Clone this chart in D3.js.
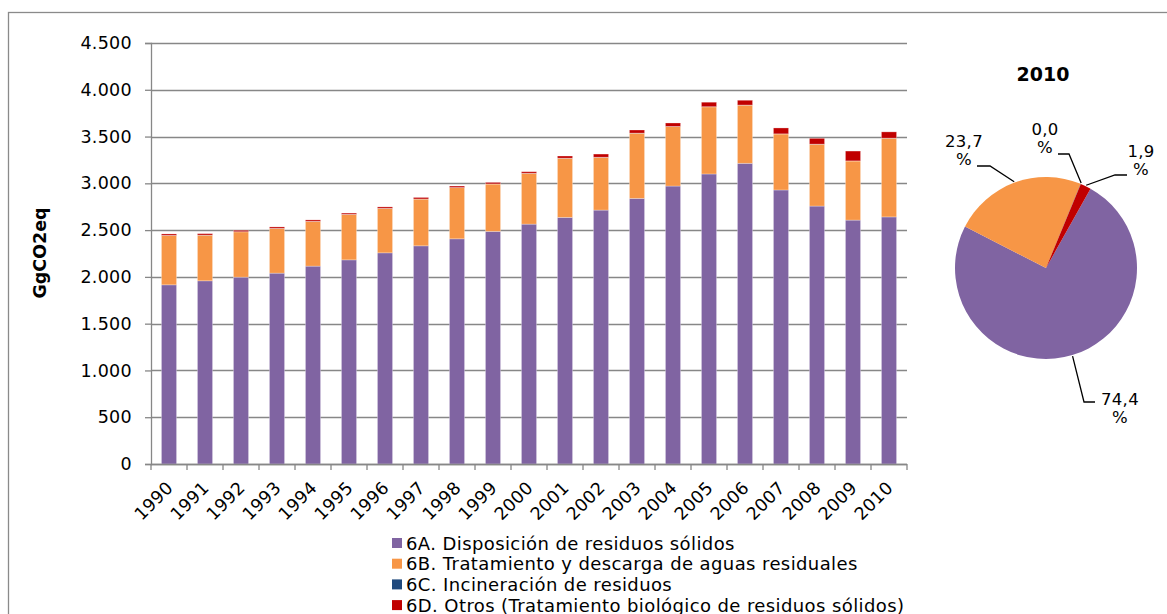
<!DOCTYPE html>
<html>
<head>
<meta charset="utf-8">
<script src="https://cdn.jsdelivr.net/npm/d3@7"></script>
<style>
  html, body { margin: 0; padding: 0; background: #fff; }
  svg { display: block; font-family: "DejaVu Sans", Verdana, sans-serif; }
</style>
</head>
<body>
<svg id="chart" width="1167" height="614"></svg>
<script>
// ---------- data ----------
const years = ["1990","1991","1992","1993","1994","1995","1996","1997","1998","1999","2000",
               "2001","2002","2003","2004","2005","2006","2007","2008","2009","2010"];
const s6A = [1915, 1958, 1997, 2040, 2115, 2182, 2257, 2332, 2407, 2486, 2564,
             2636, 2714, 2839, 2971, 3100, 3214, 2929, 2757, 2607, 2641];
const s6B = [528, 488, 485, 478, 478, 486, 475, 500, 547, 507, 543,
             632, 564, 697, 636, 718, 622, 599, 661, 632, 841];
const s6C = [1, 1, 1, 1, 1, 1, 1, 1, 1, 1, 1,
             1, 1, 1, 1, 1, 1, 1, 1, 1, 1];
const s6D = [15, 15, 15, 15, 15, 13, 15, 16, 16, 16, 16,
             23, 34, 33, 37, 48, 51, 63, 62, 105, 67];
const seriesNames = ["6A. Disposición de residuos sólidos",
                     "6B. Tratamiento y descarga de aguas residuales",
                     "6C. Incineración de residuos",
                     "6D. Otros (Tratamiento biológico de residuos sólidos)"];
const seriesKeys = ["6A", "6B", "6C", "6D"];
const colors = ["#8064A2", "#F79646", "#1F497D", "#C00000"];
const yTicks = [0, 500, 1000, 1500, 2000, 2500, 3000, 3500, 4000, 4500];
const pieYear = "2010";

// ---------- setup ----------
const locale = d3.formatLocale({decimal: ",", thousands: ".", grouping: [3], currency: ["", ""]});
const fmtInt = locale.format(",d");
const fmtPct = locale.format(".1f");

const svg = d3.select("#chart");
const FONT = 17.5;

// outer chart border
svg.append("rect").attr("x", 8.5).attr("y", 12.5).attr("width", 1170).attr("height", 640)
   .attr("fill", "none").attr("stroke", "#8a8a8a").attr("stroke-width", 1.3);

const plot = {left: 151, right: 907, top: 43, bottom: 464};

const x = d3.scaleBand().domain(years).range([plot.left, plot.right]).paddingInner(0.58).paddingOuter(0.29);
const y = d3.scaleLinear().domain([0, 4500]).range([plot.bottom, plot.top]);

const rows = years.map((yr, i) => ({year: yr, "6A": s6A[i], "6B": s6B[i], "6C": s6C[i], "6D": s6D[i]}));
const stacked = d3.stack().keys(seriesKeys)(rows);

// gridlines
svg.append("g").selectAll("line").data(yTicks).join("line")
  .attr("x1", plot.left).attr("x2", plot.right)
  .attr("y1", d => Math.round(y(d)) + 0.5).attr("y2", d => Math.round(y(d)) + 0.5)
  .attr("stroke", "#878787").attr("stroke-width", 1.3);

// bars
const gBars = svg.append("g");
stacked.forEach((layer, k) => {
  gBars.append("g").attr("fill", colors[k])
    .selectAll("rect").data(layer).join("rect")
    .attr("x", d => x(d.data.year))
    .attr("width", x.bandwidth())
    .attr("y", d => y(d[1]))
    .attr("height", d => Math.max(0, y(d[0]) - y(d[1])))
    .attr("stroke", "rgba(255,255,255,0.35)").attr("stroke-width", 0.8);
});

// y axis
const yAxis = d3.axisLeft(y).tickValues(yTicks).tickFormat(d => fmtInt(d)).tickSize(6).tickPadding(13);
const gy = svg.append("g").attr("transform", `translate(${plot.left},0)`).call(yAxis);
gy.select(".domain").attr("stroke", "#878787").attr("stroke-width", 1.3);
gy.selectAll(".tick line").attr("stroke", "#878787").attr("stroke-width", 1.3);
gy.selectAll("text").attr("font-size", FONT).attr("font-family", "DejaVu Sans, Verdana, sans-serif")
  .attr("letter-spacing", 0.3).attr("fill", "#000");

// x axis baseline with ticks at category boundaries
const gx = svg.append("g");
gx.append("line").attr("x1", plot.left).attr("x2", plot.right)
  .attr("y1", plot.bottom + 0.5).attr("y2", plot.bottom + 0.5)
  .attr("stroke", "#878787").attr("stroke-width", 1.3);
const step = x.step();
gx.selectAll("line.tk").data(d3.range(years.length + 1)).join("line").attr("class", "tk")
  .attr("x1", i => plot.left + i * step).attr("x2", i => plot.left + i * step)
  .attr("y1", plot.bottom).attr("y2", plot.bottom + 6)
  .attr("stroke", "#878787").attr("stroke-width", 1.3);
gx.selectAll("text").data(years).join("text")
  .attr("transform", d => `translate(${x(d) + x.bandwidth() / 2 + 5},${plot.bottom + 25}) rotate(-45)`)
  .attr("text-anchor", "end").attr("font-size", FONT).attr("letter-spacing", 0.3).attr("fill", "#000")
  .text(d => d);

// y axis title
svg.append("text").attr("transform", "translate(46,253) rotate(-90)")
  .attr("text-anchor", "middle").attr("font-size", 17.5).attr("font-weight", "bold").attr("fill", "#000")
  .text("GgCO2eq");

// legend
const leg = svg.append("g").attr("transform", "translate(392,538)");
seriesNames.forEach((name, k) => {
  const g = leg.append("g").attr("transform", `translate(0,${k * 20.7})`);
  g.append("rect").attr("width", 10).attr("height", 10).attr("fill", colors[k]);
  g.append("text").attr("x", 14).attr("y", 11.5).attr("font-size", 18).attr("letter-spacing", 0.4)
    .attr("fill", "#000").text(name);
});

// ---------- pie ----------
const yearIdx = years.indexOf(pieYear);
const pieVals = [s6A[yearIdx], s6B[yearIdx], s6C[yearIdx], s6D[yearIdx]];
const pieTotal = d3.sum(pieVals);
const cx = 1046, cy = 268, R = 91;
const pie = d3.pie().sort(null).startAngle(29.3 * Math.PI / 180).endAngle((29.3 + 360) * Math.PI / 180);
const arcs = pie(pieVals);
const arc = d3.arc().innerRadius(0).outerRadius(R);
const gp = svg.append("g").attr("transform", `translate(${cx},${cy})`);
gp.selectAll("path").data(arcs).join("path")
  .attr("d", arc).attr("fill", (d, i) => colors[i]);

svg.append("text").attr("x", cx - 3).attr("y", 81).attr("text-anchor", "middle")
  .attr("font-size", 19).attr("font-weight", "bold").attr("fill", "#000").text(pieYear);

// label layout (elbow, end of leader, text centre x, first baseline)
const labelLayout = [
  {elbow: [1084, 402], end: [1095, 402], tx: 1120, ty: 405},
  {elbow: [990, 166], end: [977, 166], tx: 964, ty: 147},
  {elbow: [1069, 154], end: [1058, 154], tx: 1045, ty: 135},
  {elbow: [1115, 175], end: [1127, 175], tx: 1141, ty: 157}
];
arcs.forEach((a, i) => {
  const mid = (a.startAngle + a.endAngle) / 2;
  const sx = cx + Math.sin(mid) * (R + 1), sy = cy - Math.cos(mid) * (R + 1);
  const L = labelLayout[i];
  svg.append("polyline")
    .attr("points", [[sx, sy], L.elbow, L.end].map(p => p.join(",")).join(" "))
    .attr("fill", "none").attr("stroke", "#000").attr("stroke-width", 1.3);
  const t = svg.append("text").attr("text-anchor", "middle").attr("font-size", 16.5)
    .attr("letter-spacing", 0.3).attr("fill", "#000");
  t.append("tspan").attr("x", L.tx).attr("y", L.ty).text(fmtPct(pieVals[i] / pieTotal * 100));
  t.append("tspan").attr("x", L.tx).attr("y", L.ty + 18).text("%");
});
</script>
</body>
</html>
